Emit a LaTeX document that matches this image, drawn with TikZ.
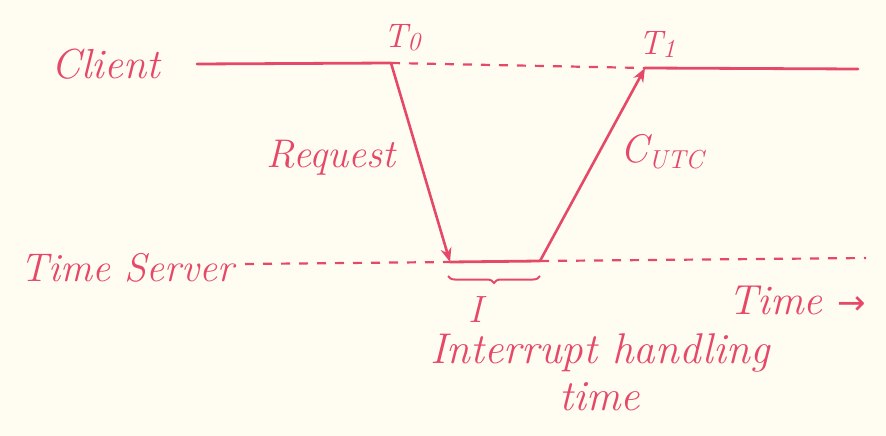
\documentclass[tikz,border=0pt]{standalone}
\usepackage{fontspec}
\newfontfamily\arrowfont{DejaVu Sans}
\usetikzlibrary{arrows.meta,decorations.pathreplacing}
\definecolor{ink}{RGB}{230,72,104}
\definecolor{paper}{RGB}{255,253,242}
\newcommand{\fs}[1]{\fontsize{#1}{#1}\selectfont}
\newcommand{\lowsub}[3]{\raisebox{-#1}{\fs{#2}#3}}
\begin{document}
\begin{tikzpicture}[x=1pt,y=-1pt,
  solidline/.style={draw=ink,line width=2.8pt,line cap=round},
  dashline/.style={draw=ink,line width=2.2pt,dash pattern=on 9pt off 9pt},
  msg/.style={draw=ink,line width=2.6pt,-{Stealth[length=14pt,width=11pt]}},
  lbl/.style={text=ink,font=\itshape,inner sep=1pt}]
\fill[paper] (0,0) rectangle (886,436);
\useasboundingbox (0,0) rectangle (886,436);
% time-line points
\coordinate (c0) at (197,64);
\coordinate (t0) at (391,63);
\coordinate (t1) at (645,68);
\coordinate (c1) at (858,69);
\coordinate (s0) at (245,264);
\coordinate (sa) at (450,262);
\coordinate (sb) at (540,261);
\coordinate (s1) at (866,258);
% labels
\node[lbl,font=\itshape\fs{42}] (client) at (106,64) {Client};
\node[lbl,font=\itshape\fs{34}] (tzero) at (402,38) {T\lowsub{3pt}{26}{0}};
\node[lbl,font=\itshape\fs{34}] (tone) at (657,44) {T\lowsub{3pt}{26}{1}};
\node[lbl,font=\itshape\fs{40}] (request) at (331,158) {Request};
\node[lbl,font=\itshape\fs{40}] (cutc) at (662,152) {C\lowsub{6pt}{26}{UTC}};
\node[lbl,font=\itshape\fs{40}] (server) at (127,268) {Time Server};
\node[lbl,font=\itshape\fs{38}] (ilbl) at (476,310) {I};
\node[lbl,font=\itshape\fs{42}] (time) at (797,300) {Time {\arrowfont\upshape\fs{34}→}};
\node[lbl,align=center,font=\itshape\fs{43}] (ih) at (600,372) {Interrupt handling\\[4pt]time};
% client line
\draw[solidline] (c0) -- (t0);
\draw[dashline] (t0) -- (t1);
\draw[solidline] (t1) -- (c1);
% server line
\draw[dashline] (s0) -- (sa);
\draw[solidline] (sa) -- (sb);
\draw[dashline] (sb) -- (s1);
% messages
\draw[msg] (t0) -- (sa);
\draw[msg] (sb) -- (t1);
% brace
\draw[draw=ink,line width=2pt,decorate,decoration={brace,mirror,amplitude=7pt}] (448,276) -- (540,276);
\end{tikzpicture}
\end{document}
